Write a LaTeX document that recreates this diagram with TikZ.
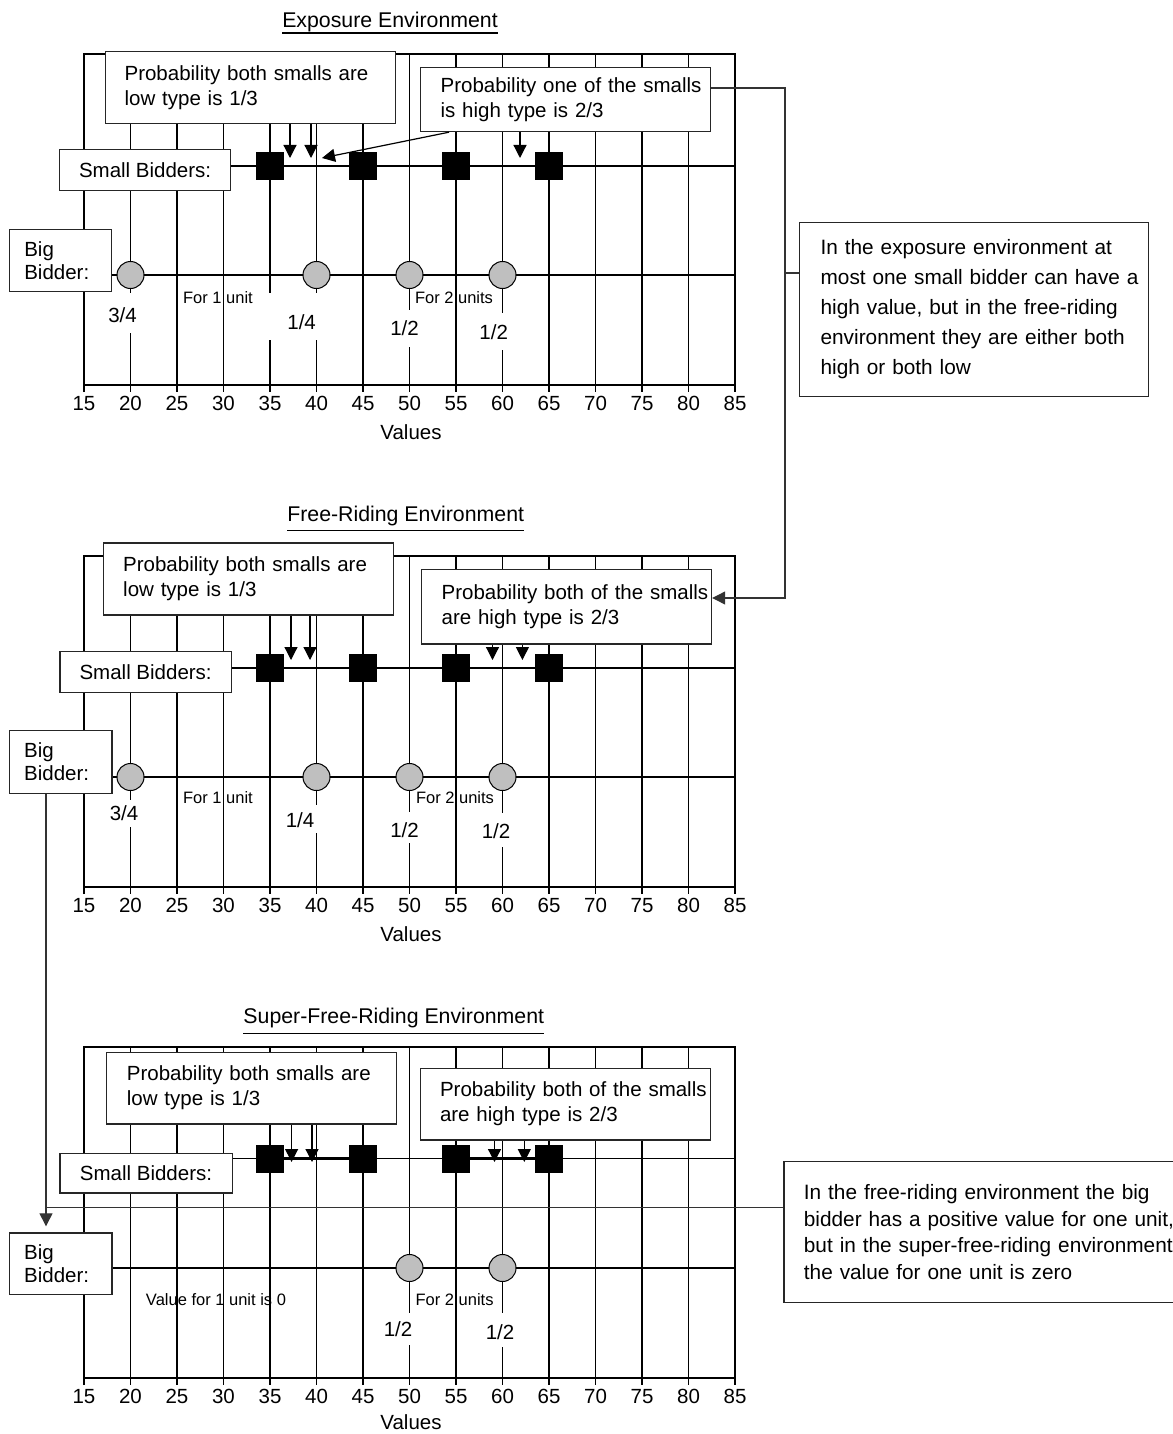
\documentclass[tikz,border=0pt]{standalone}
\usepackage{fontspec}
\setmainfont{Liberation Sans}
\usetikzlibrary{arrows.meta}
\pgfdeclarelayer{bg}
\pgfsetlayers{bg,main}
\newcommand\gridpanel[3]{%
\begin{scope}[shift={(0,#2)}]
\begin{pgfonlayer}{bg}
\foreach \v in {20,25,...,80}{\draw[gridl] ({84+(\v-15)*9.3},54) -- ({84+(\v-15)*9.3},392);}
\draw[gridl, line join=miter] (84,392) -- (84,54) -- (735,54) -- (735,392);
\draw[gridl] (84,385) -- (735,385);
\end{pgfonlayer}
\foreach \v in {15,20,...,85}{\node[lbl, anchor=base] (t#1\v) at ({84+(\v-15)*9.3},410) {\v};}
\node[lbl, anchor=base, inner sep=0pt] (val#1) at (411,#3) {Values};
\end{scope}}
\newcommand\sqrow[3]{%
\foreach \v/\nm in {35/a,45/b,55/c,65/d}{\node[sq] (s#1\nm) at ({84+(\v-15)*9.3},#2) {};}
\begin{pgfonlayer}{bg}
\draw[hthick] (s#1a) -- (s#1b);
\draw[hthick] (s#1c) -- (s#1d);
\draw[hthin] (#3.east |- s#1a) -- (735,#2);
\end{pgfonlayer}}
\begin{document}
\begin{tikzpicture}[x=1pt,y=-1pt,
  gridl/.style={line width=1.6pt},
  hthin/.style={line width=1.3pt},
  hthick/.style={line width=2.8pt},
  box/.style={draw=black!85, line width=1.2pt, fill=white, anchor=north west, inner ysep=0pt, align=left, font=\fontsize{20.5}{25}\selectfont},
  cbox/.style={draw=black!85, line width=1.2pt, fill=white, anchor=north west, inner sep=0pt, align=center, font=\fontsize{20.5}{25}\selectfont},
  sq/.style={fill=black, minimum size=28pt, inner sep=0pt},
  circ/.style={circle, draw, fill=black!25, line width=1pt, minimum size=27pt, inner sep=0pt},
  arr/.style={line width=1.2pt, -{Triangle[width=13pt,length=13pt]}},
  conn/.style={line width=1.3pt, draw=black!80},
  lbl/.style={font=\fontsize{20.5}{24}\selectfont, inner sep=1pt},
  sml/.style={font=\fontsize{16.5}{20}\selectfont, inner sep=1pt},
  ttl/.style={font=\fontsize{21.3}{26}\selectfont, inner sep=0pt, anchor=base},
  gapw/.style={fill=white}
]
\path[use as bounding box] (0,0) rectangle (1172,1434);

% ================= TOP PANEL =================
\node[ttl] (T1) at (390,28) {Exposure Environment};
\draw[line width=1.3pt] (T1.base west |- 0,33) -- (T1.base east |- 0,33);
\gridpanel{A}{0}{439.5}
\begin{pgfonlayer}{bg}
\fill[gapw] (126,293) rectangle (135,333);
\fill[gapw] (266,293) rectangle (321,340);
\fill[gapw] (405,310) rectangle (414,346.7);
\fill[gapw] (498,313) rectangle (507,350);
\end{pgfonlayer}
\node[box, minimum height=72pt, text width=251pt, inner xsep=19.5pt] (LP1) at (104.5,50.7)
  {Probability both smalls are\\ low type is 1/3};
\node[box, minimum height=64.3pt, text width=250pt, inner xsep=20pt] (RP1) at (420,66.7)
  {\mbox{Probability one of the smalls}\\ is high type is 2/3};
\node[cbox, minimum width=171pt, minimum height=41pt] (SB1) at (59,149) {Small Bidders:};
\node[box, minimum height=62pt, text width=72.6pt, inner xsep=14.7pt, font=\fontsize{20.5}{23}\selectfont] (BB1) at (9,229) {Big\\ Bidder:};
\sqrow{A}{166}{SB1}
\node[circ] (cA20) at (130.5,275) {};
\node[circ] (cA40) at (316.5,275) {};
\node[circ] (cA50) at (409.5,275) {};
\node[circ] (cA60) at (502.5,275) {};
\begin{pgfonlayer}{bg}
\draw[hthin] (BB1.east |- cA20) -- (735,275);
\end{pgfonlayer}
\draw[arr] (LP1.south -| 290,0) -- (290,158);
\draw[arr] (LP1.south -| 311,0) -- (311,158);
\draw[arr] (RP1.south -| 449,0) -- (322,158);
\draw[arr] (RP1.south -| 520,0) -- (520,158);
\node[lbl] (fA1) at (122.5,315) {3/4};
\node[lbl] (fA2) at (301.6,322) {1/4};
\node[lbl] (fA3) at (404.5,328) {1/2};
\node[lbl] (fA4) at (493.7,332) {1/2};
\node[sml] (uA1) at (218,298) {For 1 unit};
\node[sml] (uA2) at (454,298) {For 2 units};

% ================= MIDDLE PANEL =================
\node[ttl] (T2) at (405.7,521.7) {Free-Riding Environment};
\draw[line width=1.3pt] (T2.base west |- 0,530.7) -- (T2.base east |- 0,530.7);
\gridpanel{B}{502}{439.5}
\begin{pgfonlayer}{bg}
\fill[gapw] (126,800) rectangle (135,827);
\fill[gapw] (312,805) rectangle (321,833);
\fill[gapw] (405,812) rectangle (414,843);
\fill[gapw] (498,813) rectangle (507,847);
\end{pgfonlayer}
\node[box, minimum height=72pt, text width=250pt, inner xsep=20pt] (LP2) at (102.6,542.3)
  {Probability both smalls are\\ low type is 1/3};
\node[box, minimum height=74.3pt, text width=250pt, inner xsep=20pt] (RP2) at (421,569)
  {\mbox{Probability both of the smalls}\\ are high type is 2/3};
\node[cbox, minimum width=171.5pt, minimum height=40.7pt] (SB2) at (59.3,651) {Small Bidders:};
\node[box, minimum height=62.7pt, text width=73pt, inner xsep=14.8pt, font=\fontsize{20.5}{23}\selectfont] (BB2) at (8.8,730) {Big\\ Bidder:};
\sqrow{B}{668}{SB2}
\node[circ] (cB20) at (130.5,777) {};
\node[circ] (cB40) at (316.5,777) {};
\node[circ] (cB50) at (409.5,777) {};
\node[circ] (cB60) at (502.5,777) {};
\begin{pgfonlayer}{bg}
\draw[hthin] (BB2.east |- cB20) -- (735,777);
\end{pgfonlayer}
\draw[arr] (LP2.south -| 291,0) -- (291,660);
\draw[arr] (LP2.south -| 310,0) -- (310,660);
\draw[arr] (RP2.south -| 492.5,0) -- (492.5,660);
\draw[arr] (RP2.south -| 522.4,0) -- (522.4,660);
\node[lbl] (fB1) at (124,813) {3/4};
\node[lbl] (fB2) at (300,820) {1/4};
\node[lbl] (fB3) at (404.5,830) {1/2};
\node[lbl] (fB4) at (496,831) {1/2};
\node[sml] (uB1) at (218,798) {For 1 unit};
\node[sml] (uB2) at (455,798) {For 2 units};

% ================= BOTTOM PANEL =================
\node[ttl] (T3) at (393.8,1023) {Super-Free-Riding Environment};
\draw[line width=1.3pt] (T3.base west |- 0,1033.3) -- (T3.base east |- 0,1033.3);
\gridpanel{C}{993}{436.5}
\begin{pgfonlayer}{bg}
\fill[gapw] (405,1313) rectangle (414,1345);
\fill[gapw] (498,1313) rectangle (507,1347);
\end{pgfonlayer}
\node[box, minimum height=71.6pt, text width=249pt, inner xsep=20.3pt] (LP3) at (106,1051.7)
  {Probability both smalls are\\ low type is 1/3};
\node[box, minimum height=71.6pt, text width=250.5pt, inner xsep=19.6pt] (RP3) at (419.8,1067.7)
  {\mbox{Probability both of the smalls}\\ are high type is 2/3};
\node[cbox, minimum width=172.2pt, minimum height=39.6pt] (SB3) at (59.3,1152.7) {Small Bidders:};
\node[box, minimum height=61.7pt, text width=73pt, inner xsep=14.8pt, font=\fontsize{20.5}{23}\selectfont] (BB3) at (8.8,1232.3) {Big\\ Bidder:};
\sqrow{C}{1158.5}{SB3}
\node[circ] (cC50) at (409.5,1268) {};
\node[circ] (cC60) at (502.5,1268) {};
\begin{pgfonlayer}{bg}
\draw[hthin] (BB3.east |- cC50) -- (735,1268);
\end{pgfonlayer}
\draw[arr] (LP3.south -| 291.6,0) -- (291.6,1162);
\draw[arr] (LP3.south -| 312,0) -- (312,1162);
\draw[arr] (RP3.south -| 494.5,0) -- (494.5,1162);
\draw[arr] (RP3.south -| 524.3,0) -- (524.3,1162);
\node[lbl] (fC3) at (398,1329) {1/2};
\node[lbl] (fC4) at (500,1331.7) {1/2};
\node[sml] (uC1) at (216,1300) {Value for 1 unit is 0};
\node[sml] (uC2) at (454.6,1300) {For 2 units};

% ================= NOTES AND CONNECTORS =================
\node[box, minimum height=174pt, text width=307pt, inner xsep=21pt, font=\fontsize{20.8}{30}\selectfont] (N1) at (799,222)
  {\mbox{In the exposure environment at}\\ \mbox{most one small bidder can have a}\\ \mbox{high value, but in the free-riding}\\ \mbox{environment they are either both}\\ high or both low};
\node[box, minimum height=140.7pt, text width=380pt, inner xsep=20pt, font=\fontsize{20.8}{26.5}\selectfont] (N2) at (783.3,1161)
  {\mbox{In the free-riding environment the big}\\ \mbox{bidder has a positive value for one unit,}\\ \mbox{but in the super-free-riding environment}\\ the value for one unit is zero};

\coordinate (k1) at (785,88);
\coordinate (k2) at (785,598);
\draw[conn, arr] (RP1.east |- k1) -- (k1) -- (k2) -- (RP2.east |- k2);
\coordinate (k3) at (785,273);
\draw[conn] (k3) -- (N1.west |- k3);
\coordinate (k4) at (46,1207.5);
\draw[conn, arr, shorten >=6pt] (BB2.south -| k4) -- (BB3.north -| k4);
\draw[conn] (N2.west |- k4) -- (k4);
\end{tikzpicture}
\end{document}
